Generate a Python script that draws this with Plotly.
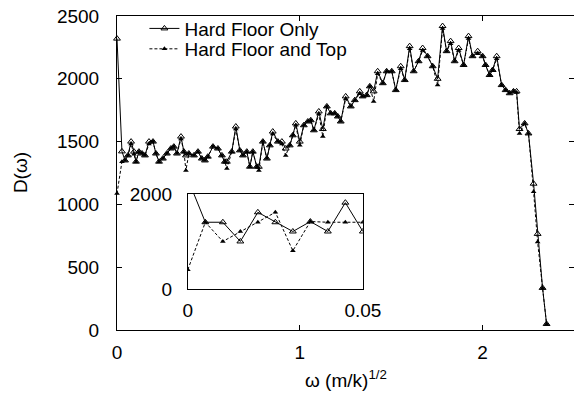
import plotly.graph_objects as go

# ---- main plot data ----
omega = [0.000,0.027,0.044,0.060,0.077,0.093,0.104,0.120,0.137,0.153,
         0.175,0.197,0.213,0.230,0.251,0.273,0.295,0.311,0.328,0.350,
         0.366,0.377,0.393,0.421,0.443,0.464,0.481,0.497,0.525,0.552,
         0.574,0.590,0.601,0.628,0.650,0.672,0.689,0.710,0.727,0.743,
         0.765,0.776,0.798,0.820,0.836,0.852,0.880,0.902,0.923,0.945,
         0.962,0.978,1.000,1.022,1.044,1.060,1.077,1.104,1.126,1.148,
         1.169,1.191,1.208,1.224,1.251,1.279,1.301,1.328,1.344,1.366,
         1.383,1.404,1.426,1.454,1.475,1.503,1.525,1.552,1.574,1.601,
         1.623,1.650,1.672,1.699,1.727,1.754,1.781,1.803,1.825,1.847,
         1.869,1.896,1.923,1.945,1.973,2.000,2.016,2.038,2.055,2.077,
         2.104,2.126,2.148,2.169,2.186,2.202,2.230,2.251,2.279,2.301,
         2.328,2.350]

hard_floor_only = [2320,1422,1350,1390,1500,1420,1340,1420,1405,1390,
                   1500,1500,1405,1340,1365,1405,1445,1460,1405,1540,
                   1420,1390,1405,1390,1420,1365,1350,1380,1460,1445,
                   1390,1340,1340,1420,1620,1430,1390,1420,1300,1420,
                   1300,1300,1500,1365,1470,1580,1500,1500,1445,1470,
                   1550,1645,1500,1630,1660,1670,1590,1740,1600,1780,
                   1725,1725,1700,1660,1860,1780,1830,1900,1860,1870,
                   1940,1900,2060,1965,2060,2060,1910,2100,1990,2260,
                   2060,2140,2245,2180,2100,2000,2420,2220,2300,2140,
                   2245,2110,2340,2180,2220,2180,2110,2030,2070,2180,
                   1950,1910,1885,1900,1900,1600,1645,1565,1165,765,
                   335,48]

hard_floor_top = [1086,1340,1350,1390,1480,1400,1340,1420,1405,1390,
                  1480,1500,1405,1340,1365,1405,1445,1460,1405,1520,
                  1420,1270,1405,1390,1420,1365,1350,1380,1460,1445,
                  1390,1340,1285,1420,1600,1430,1390,1420,1300,1420,
                  1300,1270,1500,1365,1470,1560,1500,1480,1390,1470,
                  1550,1630,1470,1630,1660,1670,1590,1720,1540,1780,
                  1725,1725,1700,1660,1840,1780,1830,1880,1860,1870,
                  1940,1820,2040,1965,2060,2060,1910,2080,1990,2240,
                  2060,2140,2225,2180,2100,1950,2400,2220,2280,2140,
                  2225,2110,2320,2180,2200,2180,2110,2030,2070,2160,
                  1950,1910,1885,1900,1890,1565,1645,1565,1100,700,
                  335,48]

# ---- inset data ----
inset_omega = [0.000,0.005,0.010,0.015,0.020,0.025,0.030,0.035,0.040,0.045,0.050]
inset_floor_only = [2320,1405,1405,1000,1615,1405,1210,1420,1210,1818,1210]
inset_floor_top = [405,1405,1000,1210,1405,1615,804,1420,1405,1405,1405]

x_ticks = [0, 1, 2]
y_ticks = [0, 500, 1000, 1500, 2000, 2500]

FONT = "Liberation Sans, Arial, Helvetica, sans-serif"
FS = 19

fig = go.Figure()

solid_style = dict(mode="lines+markers", line=dict(color="black", width=1),
                   marker=dict(symbol="triangle-up-open", size=6, color="black",
                               line=dict(width=1, color="black")))
dash_style = dict(mode="lines+markers", line=dict(color="black", width=1, dash="3px,2px"),
                  marker=dict(symbol="triangle-up", size=5, color="black"))

fig.add_trace(go.Scatter(x=omega, y=hard_floor_only, name="Hard Floor Only",
                         cliponaxis=False, legend="legend", **solid_style))
fig.add_trace(go.Scatter(x=omega, y=hard_floor_top, name="Hard Floor and Top",
                         cliponaxis=False, legend="legend2", **dash_style))
fig.add_trace(go.Scatter(x=inset_omega, y=inset_floor_only, showlegend=False,
                         xaxis="x2", yaxis="y2", cliponaxis=True, **solid_style))
fig.add_trace(go.Scatter(x=inset_omega, y=inset_floor_top, showlegend=False,
                         xaxis="x2", yaxis="y2", cliponaxis=True, **dash_style))

axis_common = dict(showgrid=False, zeroline=False, showline=True, linecolor="black",
                   linewidth=1, ticks="inside", tickcolor="black", mirror="ticks",
                   automargin=False,
                   tickfont=dict(family=FONT, size=FS, color="black"))

legend_common = dict(x=0.06, xanchor="left", yanchor="middle",
                     bgcolor="rgba(0,0,0,0)", font=dict(family=FONT, size=FS, color="black"),
                     itemwidth=30, borderwidth=0, tracegroupgap=0)

fig.update_layout(
    width=574, height=394,
    margin=dict(l=117, r=0, t=16, b=64),
    paper_bgcolor="white", plot_bgcolor="white",
    font=dict(family=FONT, size=FS, color="black"),
    xaxis=dict(range=[0, 2.5], tickvals=x_ticks, ticklen=5, ticklabelstandoff=5,
               domain=[0, 1], **axis_common),
    yaxis=dict(range=[0, 2500], tickvals=y_ticks, ticklen=5, ticklabelstandoff=13,
               domain=[0, 1], **axis_common),
    xaxis2=dict(range=[0, 0.05], tickvals=[0, 0.05], ticktext=["0", "0.05"],
                domain=[0.155, 0.538], anchor="y2", ticklen=3, ticklabelstandoff=4,
                **axis_common),
    yaxis2=dict(range=[0, 2000], tickvals=[0, 2000], domain=[0.131, 0.433],
                anchor="x2", ticklen=3, ticklabelstandoff=11, **axis_common),
    legend=dict(y=0.96, **legend_common),
    legend2=dict(y=0.895, **legend_common),
    showlegend=True,
    annotations=[
        dict(text="D(ω)", xref="paper", yref="paper", x=-0.212, y=0.50,
             xanchor="center", yanchor="middle",
             showarrow=False, textangle=-90, font=dict(family=FONT, size=FS)),
        dict(text="ω (m/k)<sup>1/2</sup>", xref="paper", yref="paper", x=0.50,
             y=-0.155, xanchor="center", yanchor="middle",
             showarrow=False, font=dict(family=FONT, size=FS)),
    ],
)

fig.write_html("out.html", config={"displayModeBar": False},
               post_script="document.body.style.margin='0px';")
